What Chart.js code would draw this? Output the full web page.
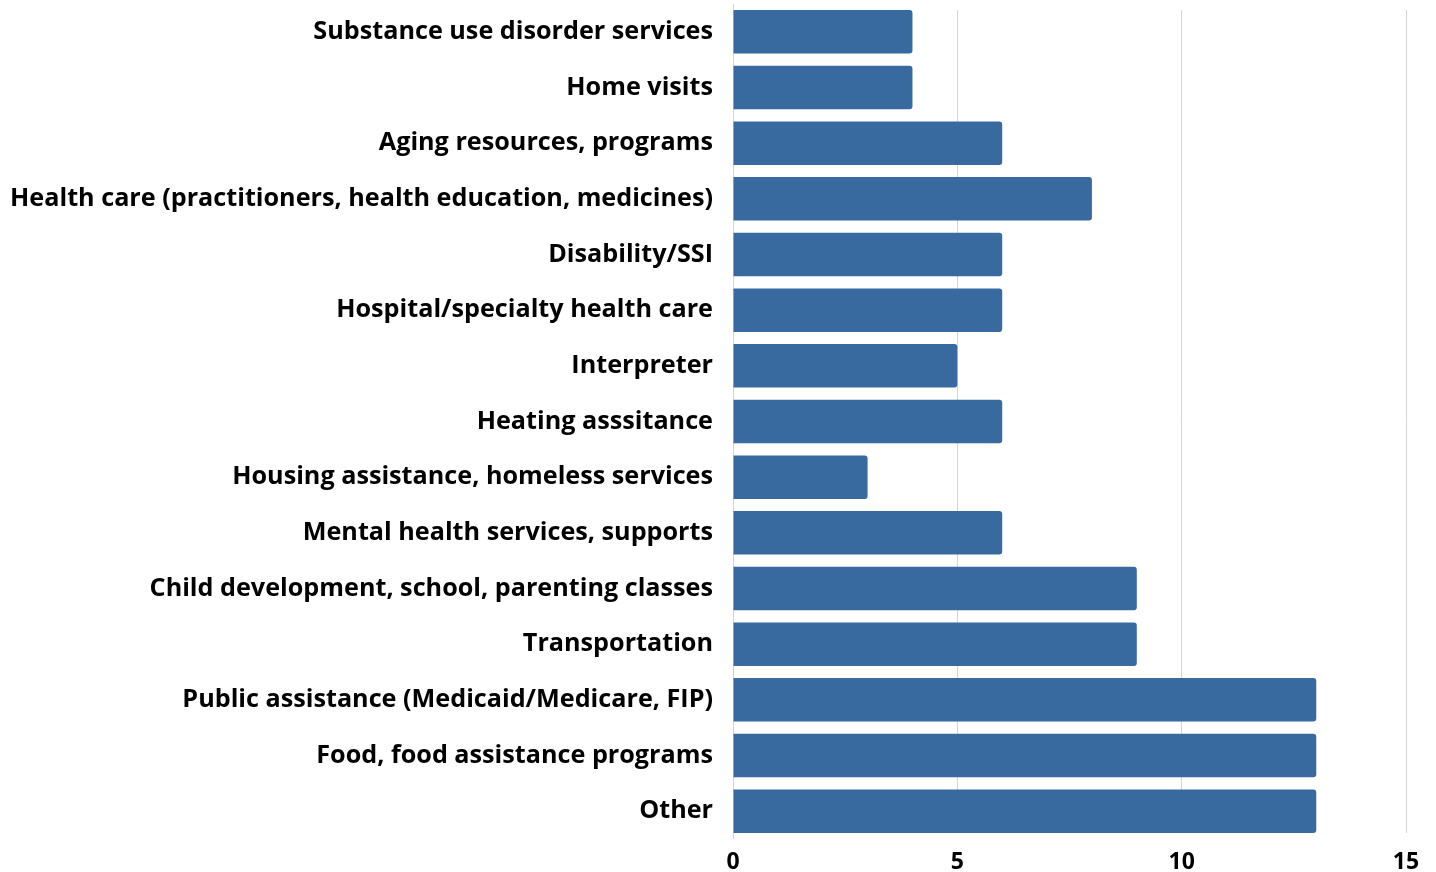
<!DOCTYPE html>
<html>
<head>
<meta charset="utf-8">
<script src="https://cdn.jsdelivr.net/npm/chart.js@4"></script>
<style>
  html, body { margin: 0; padding: 0; background: #fff; }
  #wrap { width: 1436px; height: 872px; }
</style>
</head>
<body>
<div id="wrap"><canvas id="barChart"></canvas></div>
<script>
const categories = [
    'Substance use disorder services',
    'Home visits',
    'Aging resources, programs',
    'Health care (practitioners, health education, medicines)',
    'Disability/SSI',
    'Hospital/specialty health care',
    'Interpreter',
    'Heating asssitance',
    'Housing assistance, homeless services',
    'Mental health services, supports',
    'Child development, school, parenting classes',
    'Transportation',
    'Public assistance (Medicaid/Medicare, FIP)',
    'Food, food assistance programs',
    'Other'
];
const counts = [4, 4, 6, 8, 6, 6, 5, 6, 3, 6, 9, 9, 13, 13, 13];
const xTicks = [0, 5, 10, 15];

const font = { family: '"Open Sans", sans-serif', size: 25.2, weight: 'bold' };

// trim the gridlines so they stop at the outer bars, like the original
const trimGrid = {
    id: 'trimGrid',
    beforeDatasetsDraw(chart) {
        const { ctx, chartArea: a } = chart;
        ctx.save();
        ctx.fillStyle = '#fff';
        ctx.fillRect(a.left + 1, a.top - 1, a.right - a.left + 2, 7);
        ctx.fillRect(a.left + 1, a.bottom - 6, a.right - a.left + 2, 7);
        ctx.restore();
    }
};

const ctx = document.getElementById('barChart').getContext('2d');
const chart = new Chart(ctx, {
    type: 'bar',
    data: {
        labels: categories,
        datasets: [{
            data: counts,
            backgroundColor: '#386a9f',
            borderRadius: { topRight: 3, bottomRight: 3 },
            borderSkipped: 'start',
            barPercentage: 0.78,
            categoryPercentage: 1
        }]
    },
    options: {
        indexAxis: 'y',
        responsive: true,
        maintainAspectRatio: false,
        animation: false,
        layout: { padding: { left: 10, right: 30, top: 4, bottom: 0 } },
        plugins: {
            legend: { display: false },
            tooltip: { enabled: false }
        },
        scales: {
            x: {
                min: 0,
                max: 15,
                afterBuildTicks: axis => { axis.ticks = xTicks.map(v => ({ value: v })); },
                grid: { color: '#d4d4d4', lineWidth: 1, drawTicks: false },
                border: { display: false },
                ticks: { color: '#000', font: { ...font, size: 23 }, padding: 10 },
                afterFit: axis => { axis.height = 33; }
            },
            y: {
                grid: { display: false, drawTicks: false },
                border: { display: false },
                ticks: { color: '#000', font: font, padding: 20 },
                afterFit: axis => {
                    axis.width = 723;
                    axis.paddingTop = 0;
                    axis.paddingBottom = 0;
                }
            }
        }
    },
    plugins: [trimGrid]
});
</script>
</body>
</html>
